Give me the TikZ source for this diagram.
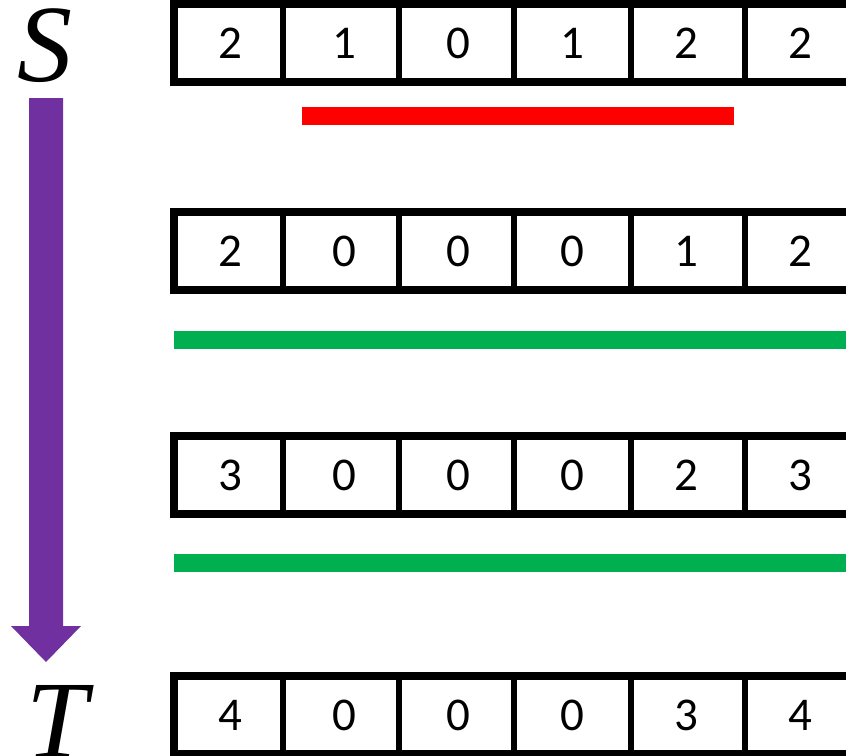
\documentclass[tikz,border=0pt]{standalone}
\usepackage{fontspec}
\setmainfont{Liberation Serif}
\newfontfamily\cellfont{Carlito}
\definecolor{arrowpurple}{HTML}{7030A0}
\definecolor{barred}{HTML}{FF0000}
\definecolor{bargreen}{HTML}{00B050}
\tikzset{
  outerline/.style={line width=8pt, draw=black},
  divline/.style={line width=6pt, draw=black},
  celltext/.style={font=\cellfont\fontsize{47}{50}\selectfont, inner sep=0pt},
  letter/.style={font=\itshape\fontsize{110}{112}\selectfont, inner sep=0pt, anchor=base},
  bar/.style={line width=18pt},
}
\begin{document}
\begin{tikzpicture}[x=1pt,y=-1pt]
\useasboundingbox (0,0) rectangle (846,755);
\begin{scope}
\clip (0,0) rectangle (846,755);
% rows
\foreach \r/\top/\vals in {1/4/{2,1,0,1,2,2}, 2/212/{2,0,0,0,1,2}, 3/436/{3,0,0,0,2,3}, 4/676/{4,0,0,0,3,4}} {
  \pgfmathsetmacro{\bot}{\top+78}
  \foreach \dx in {283,399,514,631,745} {
    \draw[divline] (\dx,\top) -- (\dx,\bot);
  }
  \draw[outerline] (870,\top) -- (174,\top) -- (174,\bot) -- (870,\bot);
  \foreach \v [count=\i] in \vals {
    \pgfmathsetmacro{\cx}{230 + (\i-1)*114}
    \node[celltext] (c\r-\i) at (\cx,{(\top+\bot)/2}) {\v};
  }
}
% labels
\node[letter] (S) at (45,81) {S};
\node[letter] (T) at (57,757) {T};
\end{scope}
% bars
\coordinate (redL) at (302,116);
\coordinate (redR) at (734,116);
\draw[bar, barred] (redL) -- (redR);
\coordinate (g1L) at (174,340);
\coordinate (g1R) at (846,340);
\draw[bar, bargreen] (g1L) -- (g1R);
\coordinate (g2L) at (174,563);
\coordinate (g2R) at (846,563);
\draw[bar, bargreen] (g2L) -- (g2R);
% arrow
\fill[arrowpurple] (29,98) -- (63,98) -- (63,626) -- (81,626) -- (46,662) -- (11,626) -- (29,626) -- cycle;
\end{tikzpicture}
\end{document}
